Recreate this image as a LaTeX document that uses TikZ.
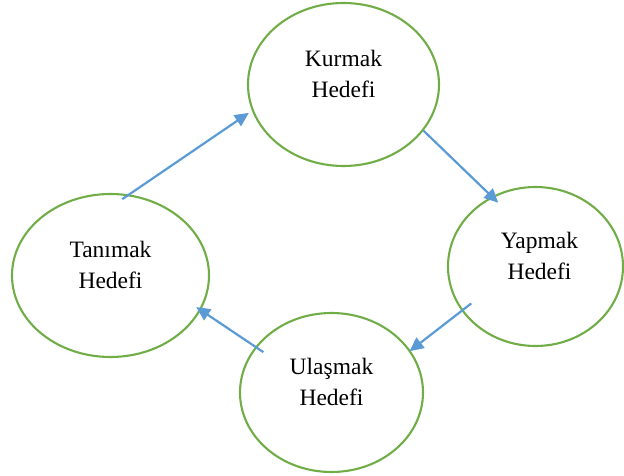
\documentclass[tikz,border=0pt]{standalone}
\usepackage{fontspec}
\setmainfont{Liberation Serif}
\usetikzlibrary{arrows.meta,shapes.geometric}
\definecolor{goalgreen}{HTML}{70AD47}
\definecolor{flowblue}{HTML}{5B9BD5}
\begin{document}
\begin{tikzpicture}[x=1pt,y=-1pt,
  goal/.style={ellipse, draw=goalgreen, line width=2.1pt, inner sep=0pt},
  goaltext/.style={align=center, inner sep=0pt,
    font=\rmfamily\fontsize{23.5}{31}\selectfont, text=black},
  flow/.style={draw=flowblue, line width=2.2pt,
    -{Triangle[length=14pt,width=13pt]}}]
\useasboundingbox (0,0) rectangle (624,476);

% the four goal ellipses
\node[goal, minimum width=191pt, minimum height=163pt] (kur) at (343.5,84.5) {};
\node[goal, minimum width=175pt, minimum height=159pt] (yap) at (535.5,266.5) {};
\node[goal, minimum width=183pt, minimum height=159pt] (ula) at (331.5,392.5) {};
\node[goal, minimum width=197pt, minimum height=163pt] (tan) at (110.5,275.5) {};

% their labels, set a little above centre
\node[goaltext, yshift=11pt] (kurT) at (kur.center) {Kurmak\\Hedefi};
\node[goaltext, yshift=11pt, xshift=4pt] (yapT) at (yap.center) {Yapmak\\Hedefi};
\node[goaltext, yshift=11pt] (ulaT) at (ula.center) {Ulaşmak\\Hedefi};
\node[goaltext, yshift=11pt] (tanT) at (tan.center) {Tanımak\\Hedefi};

% the cycle of arrows
\draw[flow, shorten <=-8.4pt, shorten >=3.8pt] (tan.77.7) -- (kur.196.3);
\draw[flow, shorten >=-9pt] (kur.-30.6) -- (yap.122.6);
\draw[flow, shorten <=-12.2pt, shorten >=-1.2pt] (yap.211.6) -- (ula.28.6);
\draw[flow, shorten <=-9.7pt, shorten >=-5.6pt] (ula.149.3) -- (tan.-21.2);
\end{tikzpicture}
\end{document}
